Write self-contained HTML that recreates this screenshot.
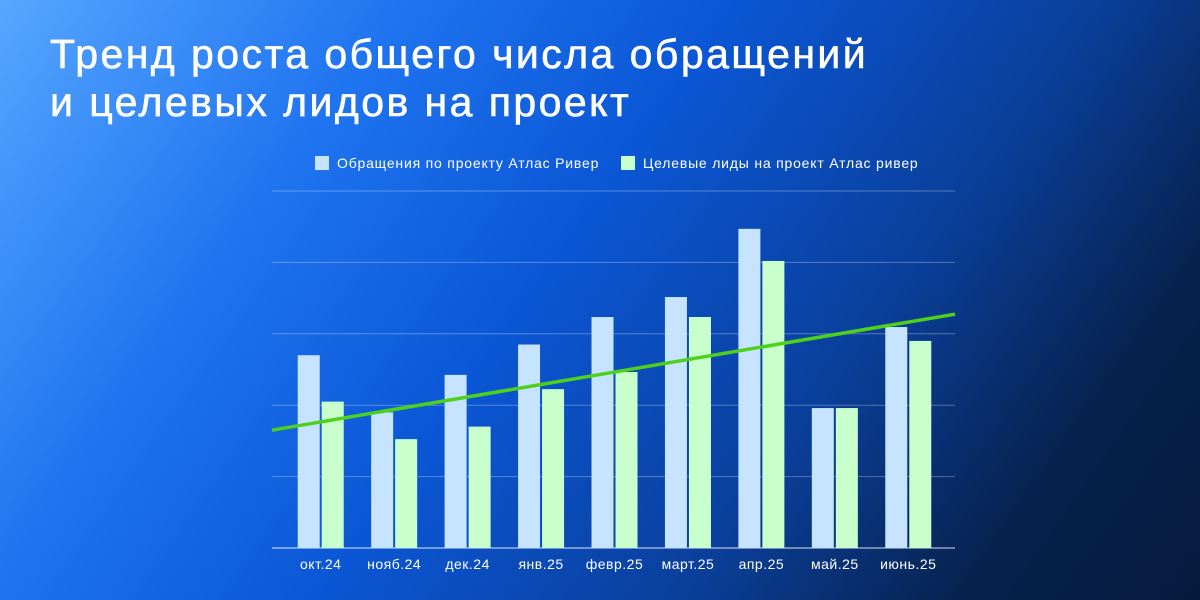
<!DOCTYPE html>
<html><head><meta charset="utf-8">
<style>
html,body{margin:0;padding:0}
body{width:1200px;height:600px;overflow:hidden;position:relative;font-family:"Liberation Sans",sans-serif;
background:linear-gradient(125deg,#57a6ff 0%,#1f74f0 25%,#0b57d6 45%,#0a3f9a 68%,#07224f 85%,#061a3c 100%);}
.title{position:absolute;left:50px;top:30px;color:#fff;font-size:41px;line-height:48px;letter-spacing:2.45px;margin:0;font-weight:normal;-webkit-text-stroke:0.6px #fff}
svg{position:absolute;left:0;top:0}
</style></head><body>
<h1 class="title">Тренд роста общего числа обращений<br>и целевых лидов на проект</h1>
<svg id="chart" width="1200" height="600"></svg>
<script>
const categories=["окт.24","нояб.24","дек.24","янв.25","февр.25","март.25","апр.25","май.25","июнь.25"];
const appeals=[54,38,48.5,57,64.7,70.3,89.4,39.2,61.9];
const leads=[41,30.5,34,44.5,49.3,64.7,80.4,39.2,58];
const gridTicks=[0,20,40,60,80,100];
const trendValues=[33,65.5];
const seriesNames=["Обращения по проекту Атлас Ривер","Целевые лиды на проект Атлас ривер"];

const NS="http://www.w3.org/2000/svg";
const svg=document.getElementById('chart');
const plot={x0:272,x1:955,y0:548,y1:191,b0:284,b1:945};
const y=v=>plot.y0-(v/100)*(plot.y0-plot.y1);
const band=(plot.b1-plot.b0)/categories.length;
const xc=i=>plot.b0+band*(i+0.5);
function mk(t,a){const e=document.createElementNS(NS,t);for(const k in a)e.setAttribute(k,a[k]);svg.appendChild(e);return e;}

gridTicks.forEach(t=>{
  const l=mk('line',{x1:plot.x0,x2:plot.x1,y1:y(t),y2:y(t),stroke:t===0?'rgba(255,255,255,0.85)':'rgba(255,255,255,0.3)','stroke-width':1});
  
  
});
categories.forEach((c,i)=>{
  const c0=xc(i);
  const b1=mk('rect',{x:c0-23,y:y(appeals[i]),width:22,height:y(0)-y(appeals[i]),fill:'#c6e4ff'});
  
  
  const b2=mk('rect',{x:c0+1,y:y(leads[i]),width:22,height:y(0)-y(leads[i]),fill:'#c8ffcc'});
  
  
  const tx=mk('text',{x:c0,y:569,'text-anchor':'middle',fill:'#fff','font-size':14,'letter-spacing':0.5});
  tx.textContent=c;
  
  
});
const tr=mk('line',{x1:plot.x0,y1:y(trendValues[0]),x2:plot.x1,y2:y(trendValues[1]),stroke:'#4fd11c','stroke-width':3.5});



const lg=[[315,'#c6e4ff'],[621,'#c8ffcc']];
lg.forEach((p,i)=>{
  const r=mk('rect',{x:p[0],y:156,width:14,height:14,fill:p[1]});
  
  
  const t=mk('text',{x:p[0]+22,y:168,fill:'#fff','font-size':14,'letter-spacing':0.8});
  t.textContent=seriesNames[i];
  
  
});
</script>
</body></html>
